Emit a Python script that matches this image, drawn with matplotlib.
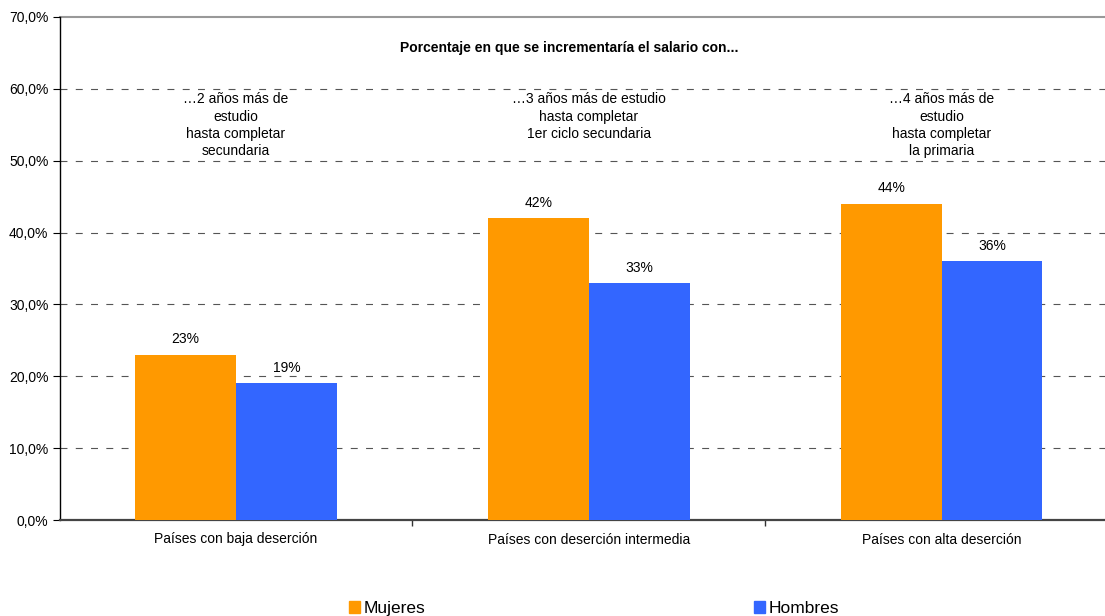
import matplotlib
matplotlib.use("Agg")
import matplotlib.pyplot as plt
from matplotlib.patches import Patch
from matplotlib.ticker import FixedLocator

plt.rcParams['font.family'] = ['Liberation Sans', 'DejaVu Sans']
plt.rcParams['lines.scale_dashes'] = False

categories = ["Países con baja deserción", "Países con deserción intermedia", "Países con alta deserción"]
series_names = ["Mujeres", "Hombres"]
mujeres = [23, 42, 44]
hombres = [19, 33, 36]
notes = ["…2 años más de\nestudio\nhasta completar\nsecundaria",
         "…3 años más de estudio\nhasta completar\n1er ciclo secundaria",
         "…4 años más de\nestudio\nhasta completar\nla primaria"]
title = "Porcentaje en que se incrementaría el salario con..."
yticks = [0, 10, 20, 30, 40, 50, 60, 70]

colors = ["#FF9900", "#3366FF"]
fs = 10

fig = plt.figure(figsize=(11.05, 6.16), dpi=100)
ax = fig.add_axes([59.5/1105, 1-520/616, (1118-59.5)/1105, 503/616])

x = list(range(len(categories)))
w = 0.286
b1 = ax.bar([i - w/2 for i in x], mujeres, w, color=colors[0], zorder=3)
b2 = ax.bar([i + w/2 for i in x], hombres, w, color=colors[1], zorder=3)
for bars, vals in ((b1, mujeres), (b2, hombres)):
    for r, v in zip(bars, vals):
        ax.annotate(f"{v}%", (r.get_x() + r.get_width()/2, v), xytext=(0, 6),
                    textcoords="offset points", ha="center", va="bottom", fontsize=fs)

ax.set_xlim(-0.5, 2.5)
ax.set_ylim(0, 70)
ax.set_yticks(yticks)
ax.set_yticklabels([f"{t:.1f}%".replace(".", ",") for t in yticks], fontsize=fs)
ax.set_xticks(x)
ax.set_xticklabels(categories, fontsize=fs)
ax.tick_params(axis='x', which='major', length=0, pad=9)
ax.xaxis.set_minor_locator(FixedLocator([0.5, 1.5]))
ax.tick_params(axis='x', which='minor', length=4, width=1, color='#333333')
ax.tick_params(axis='y', length=5, width=0.8, color='black', pad=3)

for t in yticks[1:-1]:
    ax.axhline(t, color='#555555', lw=0.8, linestyle=(0, (5, 6)), zorder=1)
ax.axhline(70, color='#999999', lw=1.5, zorder=1, clip_on=False)

for s in ['top', 'right']:
    ax.spines[s].set_visible(False)
ax.spines['left'].set_color('black')
ax.spines['left'].set_linewidth(1)
ax.spines['bottom'].set_color('#444444')
ax.spines['bottom'].set_linewidth(1.6)

for i, n in enumerate(notes):
    ax.text(i, 59.5, n, ha='center', va='top', fontsize=fs, linespacing=1.3)
ax.text(0.945, 65.7, title, ha='center', va='center', fontsize=fs, fontweight='bold')

handles = [Patch(color=c) for c in colors]
fig.legend(handles, series_names, loc='upper left', bbox_to_anchor=(349/1105, 1-601/616),
           ncol=2, frameon=False, fontsize=12.5, handlelength=0.65, handleheight=0.65,
           handletextpad=0.2, columnspacing=18.9, borderpad=0, borderaxespad=0)

fig.savefig("out.png", dpi=100)
